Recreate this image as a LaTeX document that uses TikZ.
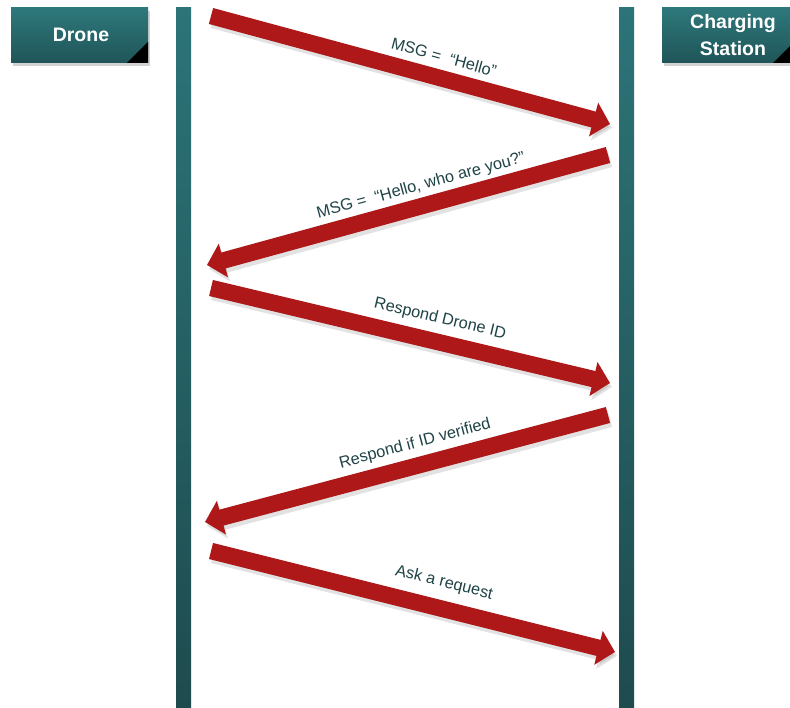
\documentclass[tikz,border=0pt]{standalone}
\usepackage{fontspec}
\setmainfont{Liberation Sans}
\usetikzlibrary{arrows.meta,shadows}
\definecolor{tealtop}{HTML}{2C7478}
\definecolor{tealbot}{HTML}{1E4B4E}
\definecolor{boxtop}{HTML}{2E787B}
\definecolor{boxbot}{HTML}{1F5558}
\definecolor{msgred}{HTML}{AE1818}
\definecolor{labcol}{HTML}{1F4346}
\tikzset{
  lifeline/.style={top color=tealtop,bottom color=tealbot,draw=none},
  actorbox/.style={top color=boxtop,bottom color=boxbot,draw=none,
    drop shadow={shadow xshift=2pt,shadow yshift=-3pt,opacity=0.35}},
  actortext/.style={text=white,font=\bfseries\fontsize{19.5}{22}\selectfont,align=center},
  msg/.style={draw=msgred,line width=16.5pt,
    -{Triangle[length=17pt,width=34pt,fill=msgred]},shorten >=0pt},
  msgshadow/.style={draw=black!45,opacity=0.25,line width=16.5pt,
    -{Triangle[length=17pt,width=34pt]}},
  msglabel/.style={text=labcol,font=\fontsize{16.3}{18}\selectfont,inner sep=1pt}
}
\begin{document}
\begin{tikzpicture}[x=1pt,y=-1pt]
\useasboundingbox (0,0) rectangle (790,708);
\fill[white] (0,0) rectangle (790,708);
% lifelines
\shade[lifeline] (176,8) rectangle (191,708);
\shade[lifeline] (619,8) rectangle (634,708);
% actor boxes
\shade[actorbox] (11,8) rectangle (148,63);
\fill[black] (148,42) -- (148,63) -- (127,63) -- cycle;
\node[actortext] (drone) at (81,35) {Drone};
\shade[actorbox] (662,8) rectangle (800,63);
\fill[black] (790,46) -- (790,63) -- (773,63) -- cycle;
\node[actortext,font=\bfseries\fontsize{19.5}{27}\selectfont] (station) at (733,35) {Charging\\Station};
% message endpoints
\coordinate (m1s) at (211,16);  \coordinate (m1e) at (610,124);
\coordinate (m2s) at (608,155); \coordinate (m2e) at (207,265);
\coordinate (m3s) at (211,288); \coordinate (m3e) at (610,383);
\coordinate (m4s) at (608,415); \coordinate (m4e) at (205,522);
\coordinate (m5s) at (211,551); \coordinate (m5e) at (615,652);
% shadows
\foreach \a in {1,...,5}{
  \draw[msgshadow] ([shift={(2,4)}]m\a s) -- ([shift={(2,4)}]m\a e);
}
% messages
\draw[msg] (m1s) -- (m1e);
\draw[msg] (m2s) -- (m2e);
\draw[msg] (m3s) -- (m3e);
\draw[msg] (m4s) -- (m4e);
\draw[msg] (m5s) -- (m5e);
% labels
\node[msglabel,rotate=-15.2] (l1) at (444,57) {MSG =\ \ “Hello”};
\node[msglabel,rotate=15.2] (l2) at (421,186) {MSG =\ \ “Hello, who are you?”};
\node[msglabel,rotate=-13.4] (l3) at (440,319) {Respond Drone ID};
\node[msglabel,rotate=14.9] (l4) at (415,444) {Respond if ID verified};
\node[msglabel,rotate=-14.0] (l5) at (444,583) {Ask a request};
\end{tikzpicture}
\end{document}
